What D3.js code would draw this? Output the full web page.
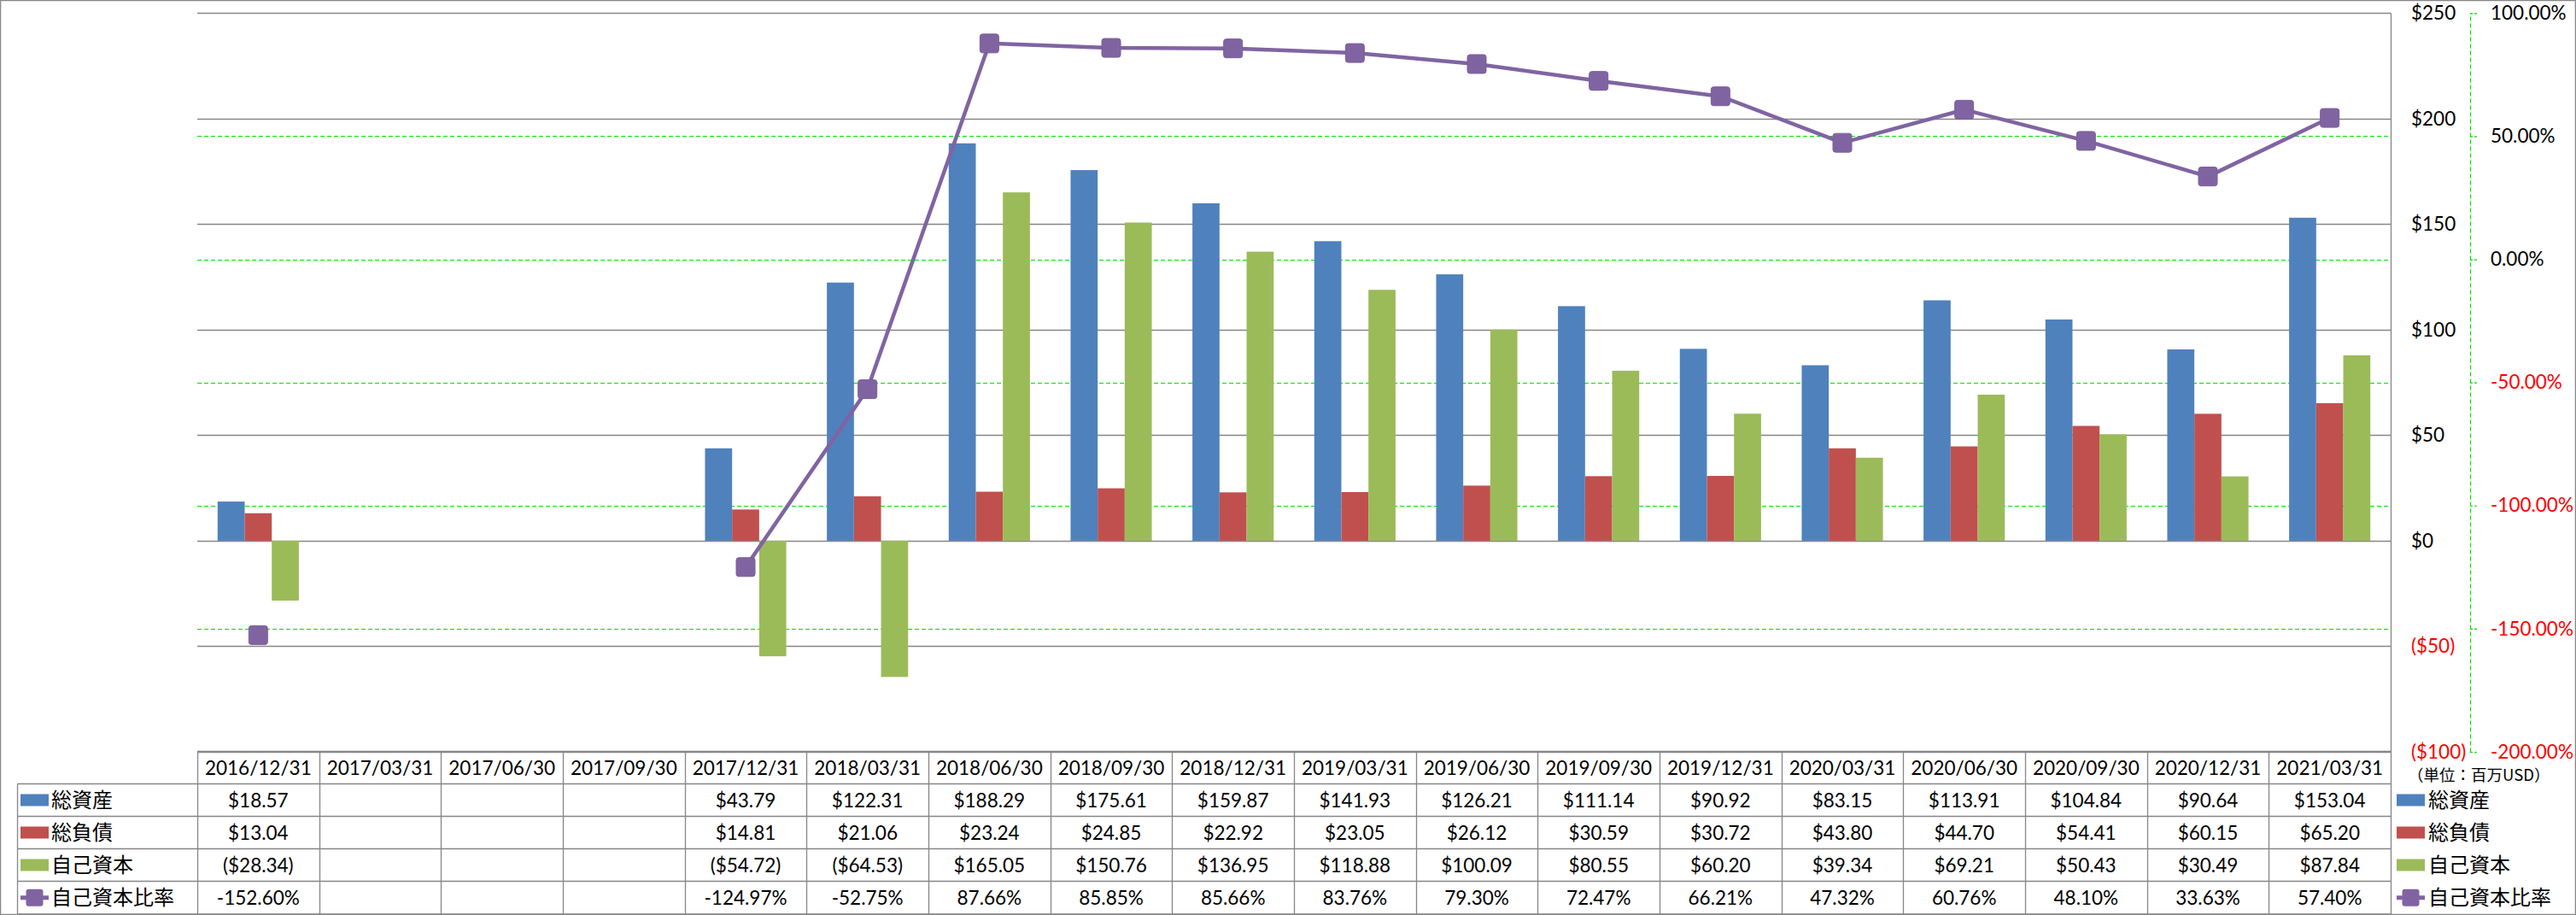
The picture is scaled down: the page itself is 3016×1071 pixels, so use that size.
<!DOCTYPE html>
<html><head><meta charset="utf-8">
<script src="https://cdn.jsdelivr.net/npm/d3@7"></script>
<style>body{margin:0;background:#fff;} svg{display:block;}</style>
</head><body><svg id="c" width="3016" height="1071"></svg>
<script>
const categories = ["2016/12/31","2017/03/31","2017/06/30","2017/09/30","2017/12/31","2018/03/31","2018/06/30","2018/09/30","2018/12/31","2019/03/31","2019/06/30","2019/09/30","2019/12/31","2020/03/31","2020/06/30","2020/09/30","2020/12/31","2021/03/31"];
const totalAssets = [18.57,null,null,null,43.79,122.31,188.29,175.61,159.87,141.93,126.21,111.14,90.92,83.15,113.91,104.84,90.64,153.04];
const totalLiabilities = [13.04,null,null,null,14.81,21.06,23.24,24.85,22.92,23.05,26.12,30.59,30.72,43.80,44.70,54.41,60.15,65.20];
const equity = [-28.34,null,null,null,-54.72,-64.53,165.05,150.76,136.95,118.88,100.09,80.55,60.20,39.34,69.21,50.43,30.49,87.84];
const equityRatio = [-152.60,null,null,null,-124.97,-52.75,87.66,85.85,85.66,83.76,79.30,72.47,66.21,47.32,60.76,48.10,33.63,57.40];
const seriesNames = ["総資産","総負債","自己資本","自己資本比率"];
const seriesColors = ["#4F81BD","#C0504D","#9BBB59","#8064A2"];
const leftTicks = [-100,-50,0,50,100,150,200,250];
const rightTicks = [-200,-150,-100,-50,0,50,100];
const unitLabel = "（単位：百万USD）";

const svg = d3.select("#c");
const W = 3016, H = 1071;
const PL = 231, PR = 2799, PT = 15.3, PB = 880;
const NUM_FONT = "Lato, 'Noto Sans CJK JP', sans-serif";
const JP_FONT = "'Noto Sans CJK JP', sans-serif";
const GRAY = "#868686";

const x = d3.scaleBand().domain(categories).range([PL, PR]).paddingInner(0).paddingOuter(0);
const barKeys = [0,1,2];
const x1 = d3.scaleBand().domain(barKeys).range([0, x.bandwidth()]).paddingInner(0).paddingOuter(0.75);
const y = d3.scaleLinear().domain([-100, 250]).range([PB, PT]);
const y2 = d3.scaleLinear().domain([-200, 100]).range([PB, PT]);

const f2 = v => Math.abs(v).toFixed(2);
const fmtMoney = v => v == null ? "" : (v < 0 ? "($" + f2(v) + ")" : "$" + f2(v));
const fmtAxisMoney = v => v < 0 ? "($" + (-v) + ")" : "$" + v;
const fmtPct = v => v == null ? "" : (v < 0 ? "-" : "") + f2(v) + "%";

// outer border
svg.append("rect").attr("x",0.5).attr("y",0.5).attr("width",W-1).attr("height",H-1)
  .attr("fill","#fff").attr("stroke",GRAY).attr("stroke-width",1.5);

// green dashed gridlines (secondary)
svg.append("g").selectAll("line").data(rightTicks).join("line")
  .attr("x1",PL).attr("x2",PR).attr("y1",d=>Math.round(y2(d))+0.5).attr("y2",d=>Math.round(y2(d))+0.5)
  .attr("stroke","#00E000").attr("stroke-width",1.2).attr("stroke-dasharray","5,3");

// gray gridlines (primary)
svg.append("g").selectAll("line").data(leftTicks).join("line")
  .attr("x1",PL).attr("x2",PR).attr("y1",d=>Math.round(y(d))+0.5).attr("y2",d=>Math.round(y(d))+0.5)
  .attr("stroke",GRAY).attr("stroke-width",1.3);

// bars
const barData = [totalAssets,totalLiabilities,equity];
const bars = svg.append("g");
barData.forEach((arr,si)=>{
  bars.append("g").selectAll("rect").data(categories.map((c,i)=>({c,v:arr[i]})).filter(d=>d.v!=null)).join("rect")
    .attr("x",d=>x(d.c)+x1(si)).attr("width",x1.bandwidth())
    .attr("y",d=>Math.min(y(d.v),y(0))).attr("height",d=>Math.abs(y(d.v)-y(0)))
    .attr("fill",seriesColors[si]);
});

// line series
const lineData = categories.map((c,i)=>({c,v:equityRatio[i]}));
const line = d3.line().defined(d=>d.v!=null).x(d=>x(d.c)+x.bandwidth()/2).y(d=>y2(d.v));
svg.append("path").datum(lineData).attr("d",line).attr("fill","none")
  .attr("stroke",seriesColors[3]).attr("stroke-width",4.5).attr("stroke-linejoin","round");
const MK = 22;
svg.append("g").selectAll("rect").data(lineData.filter(d=>d.v!=null)).join("rect")
  .attr("x",d=>x(d.c)+x.bandwidth()/2-MK/2).attr("y",d=>y2(d.v)-MK/2)
  .attr("width",MK).attr("height",MK).attr("rx",3)
  .attr("fill",seriesColors[3]).attr("stroke","#7A5F9C").attr("stroke-width",1);

// plot right border
svg.append("line").attr("x1",PR+0.5).attr("x2",PR+0.5).attr("y1",PT).attr("y2",H)
  .attr("stroke",GRAY).attr("stroke-width",1.3);

// primary axis (right, labels)
const axL = svg.append("g").attr("transform",`translate(${PR},0)`)
  .call(d3.axisRight(y).tickValues(leftTicks).tickSize(0).tickPadding(24).tickFormat(fmtAxisMoney));
axL.select(".domain").remove();
axL.selectAll("text").attr("font-family",NUM_FONT).attr("font-size",22.5)
  .attr("fill",d=>d<0?"#FF0000":"#000");

// secondary axis
const AX2 = 2892;
const axR = svg.append("g").attr("transform",`translate(${AX2},0)`)
  .call(d3.axisRight(y2).tickValues(rightTicks).tickSizeInner(8).tickSizeOuter(0).tickPadding(16).tickFormat(fmtPct));
axR.select(".domain").attr("stroke","#00E000").attr("stroke-width",1.2).attr("stroke-dasharray","5,3");
axR.selectAll(".tick line").attr("stroke","#00E000").attr("stroke-width",1.2).attr("stroke-dasharray","3,2");
axR.selectAll("text").attr("font-family",NUM_FONT).attr("font-size",22.5)
  .attr("fill",d=>d<0?"#FF0000":"#000");

// unit label
svg.append("text").attr("x",2819).attr("y",908).attr("dy","0.35em")
  .attr("font-family",JP_FONT).attr("font-size",18.5).attr("fill","#000").text(unitLabel);

// data table
const rowH = 38;
const tTop = 879.5;
const rowYs = [tTop, tTop+rowH, tTop+2*rowH, tTop+3*rowH, tTop+4*rowH, H-1];
const LEGX = 20.5;
const tg = svg.append("g");
tg.append("line").attr("x1",PL).attr("x2",PR).attr("y1",rowYs[0]).attr("y2",rowYs[0]).attr("stroke",GRAY).attr("stroke-width",1.3);
rowYs.slice(1).forEach(yy=>{
  tg.append("line").attr("x1",LEGX).attr("x2",PR).attr("y1",yy).attr("y2",yy).attr("stroke",GRAY).attr("stroke-width",1.3);
});
tg.append("line").attr("x1",LEGX).attr("x2",LEGX).attr("y1",rowYs[1]).attr("y2",H).attr("stroke",GRAY).attr("stroke-width",1.3);
categories.forEach(c=>{
  const xx = Math.round(x(c))+0.5;
  tg.append("line").attr("x1",xx).attr("x2",xx).attr("y1",rowYs[0]).attr("y2",H).attr("stroke",GRAY).attr("stroke-width",1.3);
});
tg.append("g").selectAll("text").data(categories).join("text")
  .attr("x",d=>x(d)+x.bandwidth()/2).attr("y",(rowYs[0]+rowYs[1])/2).attr("dy","0.36em")
  .attr("text-anchor","middle").attr("font-family",NUM_FONT).attr("font-size",22.5).attr("fill","#000")
  .text(d=>d);
const tableRows = [totalAssets.map(fmtMoney), totalLiabilities.map(fmtMoney), equity.map(fmtMoney), equityRatio.map(fmtPct)];
tableRows.forEach((vals,ri)=>{
  const cy = (rowYs[ri+1]+rowYs[ri+2])/2;
  tg.append("g").selectAll("text").data(categories.map((c,i)=>({c,t:vals[i]}))).join("text")
    .attr("x",d=>x(d.c)+x.bandwidth()/2).attr("y",cy).attr("dy","0.36em")
    .attr("text-anchor","middle").attr("font-family",NUM_FONT).attr("font-size",22.5).attr("fill","#000")
    .text(d=>d.t);
});

function legendKey(g, sx, cy, si){
  if (si < 3) {
    g.append("rect").attr("x",sx).attr("y",cy-7).attr("width",33).attr("height",14).attr("fill",seriesColors[si]);
  } else {
    g.append("line").attr("x1",sx).attr("x2",sx+33).attr("y1",cy).attr("y2",cy)
      .attr("stroke",seriesColors[3]).attr("stroke-width",5);
    g.append("rect").attr("x",sx+16.5-10).attr("y",cy-10).attr("width",20).attr("height",20).attr("rx",3)
      .attr("fill",seriesColors[3]);
  }
}
seriesNames.forEach((name,si)=>{
  const cy = (rowYs[si+1]+rowYs[si+2])/2;
  const g1 = svg.append("g");
  legendKey(g1, 24, cy, si);
  g1.append("text").attr("x",60).attr("y",cy).attr("dy","0.36em")
    .attr("font-family",JP_FONT).attr("font-size",24).attr("fill","#000").text(name);
  const g2 = svg.append("g");
  legendKey(g2, 2806, cy, si);
  g2.append("text").attr("x",2843).attr("y",cy).attr("dy","0.36em")
    .attr("font-family",JP_FONT).attr("font-size",24).attr("fill","#000").text(name);
});
</script></body></html>
